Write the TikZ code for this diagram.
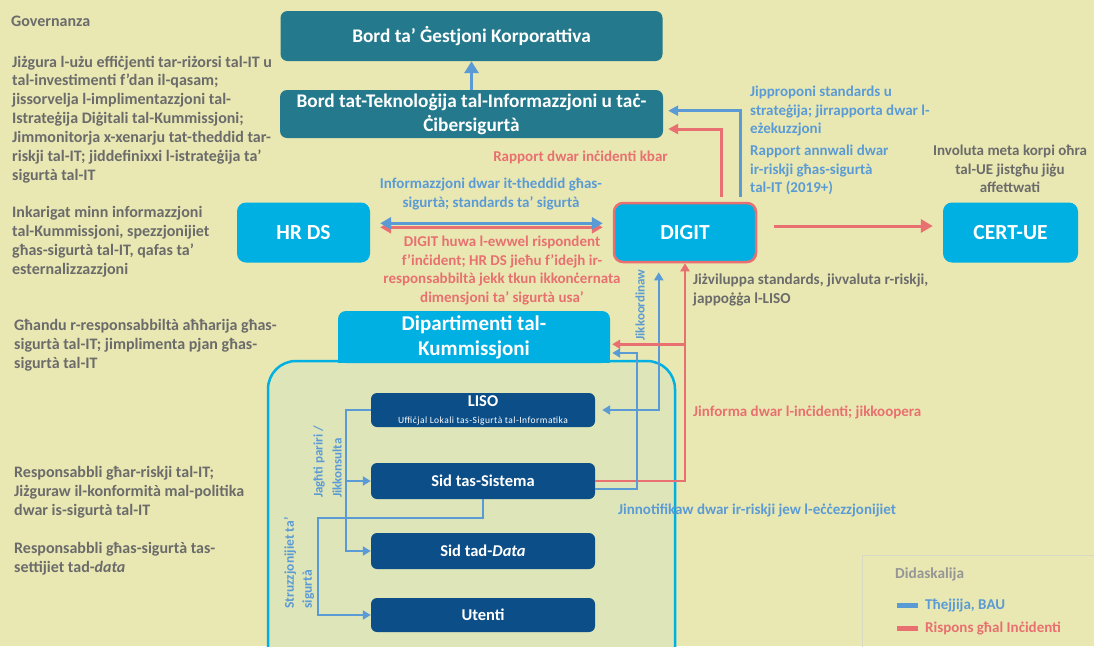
\documentclass[tikz,border=0pt]{standalone}
\usepackage{fontspec}
\setmainfont{Carlito}
\usetikzlibrary{arrows.meta,calc}
\definecolor{bg}{RGB}{233,232,178}
\definecolor{innerfill}{RGB}{222,229,185}
\definecolor{tealc}{RGB}{36,122,140}
\definecolor{cyanc}{RGB}{0,176,226}
\definecolor{navyc}{RGB}{12,78,136}
\definecolor{bluec}{RGB}{91,155,213}
\definecolor{redc}{RGB}{232,112,112}
\definecolor{grayc}{RGB}{107,107,107}
\definecolor{leggray}{RGB}{150,150,150}
\definecolor{legbord}{RGB}{218,218,196}
\tikzset{
  gtxt/.style={text=grayc, font=\bfseries\fontsize{16}{18.9}\selectfont, align=left, anchor=west, inner sep=0pt},
  blbl/.style={text=bluec, font=\bfseries\fontsize{15}{18.4}\selectfont, inner sep=0pt},
  rlbl/.style={text=redc, font=\bfseries\fontsize{15}{18.4}\selectfont, inner sep=0pt},
  tealbox/.style={fill=tealc, rounded corners=7pt, text=white, font=\bfseries\fontsize{19.3}{24.3}\selectfont, align=center, inner sep=0pt},
  cybox/.style={fill=cyanc, rounded corners=9pt, text=white, font=\bfseries\fontsize{21.5}{25}\selectfont, align=center, inner sep=0pt},
  navybox/.style={fill=navyc, rounded corners=6pt, text=white, font=\bfseries\fontsize{16.5}{18}\selectfont, align=center, inner sep=0pt, minimum width=224pt},
  bline/.style={draw=bluec, line width=2.5pt},
  rline/.style={draw=redc, line width=2.5pt},
  tip/.style={-{Triangle[length=8pt,width=9pt]}},
  dtip/.style={{Triangle[length=8pt,width=9pt]}-{Triangle[length=8pt,width=9pt]}},
}
\begin{document}
\begin{tikzpicture}[x=1pt,y=-1pt]
\useasboundingbox (0,0) rectangle (1094,646);
\fill[bg] (0,0) rectangle (1094,646);
\clip (0,0) rectangle (1094,646);

% left descriptions
\node[gtxt] (tgov) at (11,21) {Governanza};
\node[gtxt] (t1) at (12,119.5) {Jiżgura l-użu effiċjenti tar-riżorsi tal-IT u\\tal-investimenti f’dan il-qasam;\\jissorvelja l-implimentazzjoni tal-\\Istrateġija Diġitali tal-Kummissjoni;\\Jimmonitorja x-xenarju tat-theddid tar-\\riskji tal-IT; jiddefinixxi l-istrateġija ta’\\sigurtà tal-IT};
\node[gtxt] (t2) at (12,241.5) {Inkarigat minn informazzjoni\\tal-Kummissjoni, spezzjonijiet\\għas-sigurtà tal-IT, qafas ta’\\esternalizzazzjoni};
\node[gtxt] (t3) at (14,345) {Għandu r-responsabbiltà aħħarija għas-\\sigurtà tal-IT; jimplimenta pjan għas-\\sigurtà tal-IT};
\node[gtxt] (t4) at (14,492) {Responsabbli għar-riskji tal-IT;\\Jiżguraw il-konformità mal-politika\\dwar is-sigurtà tal-IT};
\node[gtxt] (t5) at (14,558.3) {Responsabbli għas-sigurtà tas-\\settijiet tad-\textit{data}};

% boards
\node[tealbox, minimum width=382pt, minimum height=50pt] (bgk) at (471.5,36) {Bord ta’ Ġestjoni Korporattiva};
\node[tealbox, minimum width=383pt, minimum height=48pt] (bit) at (471.5,114) {Bord tat-Teknoloġija tal-Informazzjoni u taċ-\\Ċibersigurtà};
\draw[bline, line width=3pt, -{Triangle[length=12pt,width=14pt]}] (bit.north) -- (bgk.south);

% main boxes
\node[cybox, minimum width=133pt, minimum height=60pt] (hrds) at (303.5,232.5) {HR DS};
\node[cybox, draw=redc, line width=2.5pt, minimum width=142pt, minimum height=59pt] (digit) at (685,232.5) {DIGIT};
\node[cybox, minimum width=135pt, minimum height=60pt] (cert) at (1010.5,232.5) {CERT-UE};

% DIGIT -> Bord IT
\draw[bline, line width=3pt, -{Triangle[length=10pt,width=10pt]}] ($(digit.north west)+(128,-5)$) |- ($(bit.east)+(5,-3.3)$);
\draw[rline, line width=3pt, -{Triangle[length=10pt,width=10pt]}] ($(digit.north west)+(109,-5)$) |- ($(bit.east)+(5,15)$);

% HR DS <-> DIGIT
\draw[rline, line width=3pt, {Triangle[length=11pt,width=12pt]}-{Triangle[length=11pt,width=12pt]}] ($(hrds.east)+(10,-5.2)$) -- ($(digit.west)+(-10,-5.2)$);
\draw[bline, line width=3pt, {Triangle[length=11pt,width=12pt]}-{Triangle[length=11pt,width=12pt]}] ($(hrds.east)+(10,-9.2)$) -- ($(digit.west)+(-10,-9.2)$);

% DIGIT -> CERT-UE
\draw[rline, line width=3pt, -{Triangle[length=12pt,width=13pt]}] ($(digit.east)+(17,-6.5)$) -- ($(cert.west)+(-10,-6.5)$);

% labels
\node[rlbl] (lkbar) at (580.5,157) {Rapport dwar inċidenti kbar};
\node[blbl, align=center] (linfo) at (491,194) {Informazzjoni dwar it-theddid għas-\\sigurtà; standards ta' sigurtà};
\node[rlbl, align=center] (ldigit) at (502,270.5) {DIGIT huwa l-ewwel rispondent\\f’inċident; HR DS jieħu f’idejh ir-\\responsabbiltà jekk tkun ikkonċernata\\dimensjoni ta’ sigurtà usa’};
\node[blbl, align=left, anchor=west] (lprop) at (750,111) {Jipproponi standards u\\strateġija; jirrapporta dwar l-\\eżekuzzjoni};
\node[blbl, align=left, anchor=west] (lann) at (750,170) {Rapport annwali dwar\\ir-riskji għas-sigurtà\\tal-IT (2019+)};
\node[gtxt, font=\bfseries\fontsize{15}{18.4}\selectfont, align=center, anchor=center] (linv) at (1010,169) {Involuta meta korpi oħra\\tal-UE jistgħu jiġu\\affettwati};
\node[gtxt, font=\bfseries\fontsize{15.2}{18.4}\selectfont] (lstd) at (693,290) {Jiżviluppa standards, jivvaluta r-riskji,\\jappoġġa l-LISO};

% Commission department container
\draw[draw=cyanc, fill=innerfill, line width=2.5pt, rounded corners=28pt] (268,361) rectangle (675,700);
\fill[cyanc] (338,337) rectangle (610,363);
\node[fill=cyanc, rounded corners=8pt, minimum width=272pt, minimum height=52pt, text=white, font=\bfseries\fontsize{21}{25}\selectfont, align=center, inner sep=0pt] (dip) at (474,337) {Dipartimenti tal-\\Kummissjoni};

\node[navybox, minimum height=34pt] (liso) at (483,410) {LISO\\[-1pt]{\mdseries\fontsize{9.5}{11}\selectfont\addfontfeature{LetterSpace=4.7}Uffiċjal Lokali tas-Sigurtà tal-Informatika}};
\node[navybox, minimum height=36pt] (sis) at (483,481) {Sid tas-Sistema};
\node[navybox, minimum height=36pt] (sid) at (483,551) {Sid tad-\textit{Data}};
\node[navybox, minimum height=34pt] (ut) at (483,615) {Utenti};

% inner connectors
\coordinate (adv) at ($(liso.west)+(-25,0)$);
\draw[bline, line width=2.2pt, tip] (liso.west) -- (adv) |- (sid.west);
\draw[bline, line width=2.2pt, tip] (adv |- sis.west) -- (sis.west);
\draw[bline, line width=2.2pt, tip] (sis.south) -- ++(0,19) -| ($(ut.west)+(-53,0)$) -- (ut.west);
\draw[bline, line width=2.2pt, dtip] ($(liso.east)+(7,0)$) -| ($(digit.south west)+(46,9)$);

\path (digit.south) ++(0,81) coordinate (rj);
\draw[rline, tip] (sis.east) -| (digit.south);
\draw[rline, tip, shorten >=2pt] (rj) -- (rj -| dip.east);
\path (sis.east) ++(42,-128) coordinate (bj);
\draw[bline, line width=2.2pt, tip, shorten >=2pt] ($(sis.east)+(0,8)$) -| (bj) -- (bj -| dip.east);

% inner labels
\node[blbl, font=\bfseries\fontsize{13}{19}\selectfont, rotate=90, align=left] (ladv) at (327.5,462) {Jagħti pariri /\\Jikkonsulta};
\node[blbl, font=\bfseries\fontsize{13.5}{18}\selectfont, rotate=90, align=left] (lstr) at (299,563) {Struzzjonijiet ta’\\sigurtà};
\node[blbl, font=\bfseries\fontsize{13}{18}\selectfont, rotate=90] (lkoor) at (640,305) {Jikkoordinaw};
\node[rlbl, anchor=west] (linf) at (693,412) {Jinforma dwar l-inċidenti; jikkoopera};
\node[blbl, anchor=west] (lnot) at (618,510) {Jinnotifikaw dwar ir-riskji jew l-eċċezzjonijiet};

% legend
\draw[legbord, line width=1pt] (862,555) rectangle (1120,680);
\node[gtxt, text=leggray, font=\bfseries\fontsize{15.3}{17}\selectfont] (legt) at (895,574) {Didaskalija};
\draw[bluec, line width=5pt] (897,605) -- (918,605);
\node[blbl, anchor=west] (legb) at (925,605) {Tħejjija, BAU};
\draw[redc, line width=5pt] (897,628) -- (918,628);
\node[rlbl, anchor=west] (legr) at (925,628) {Rispons għal Inċidenti};
\end{tikzpicture}
\end{document}
